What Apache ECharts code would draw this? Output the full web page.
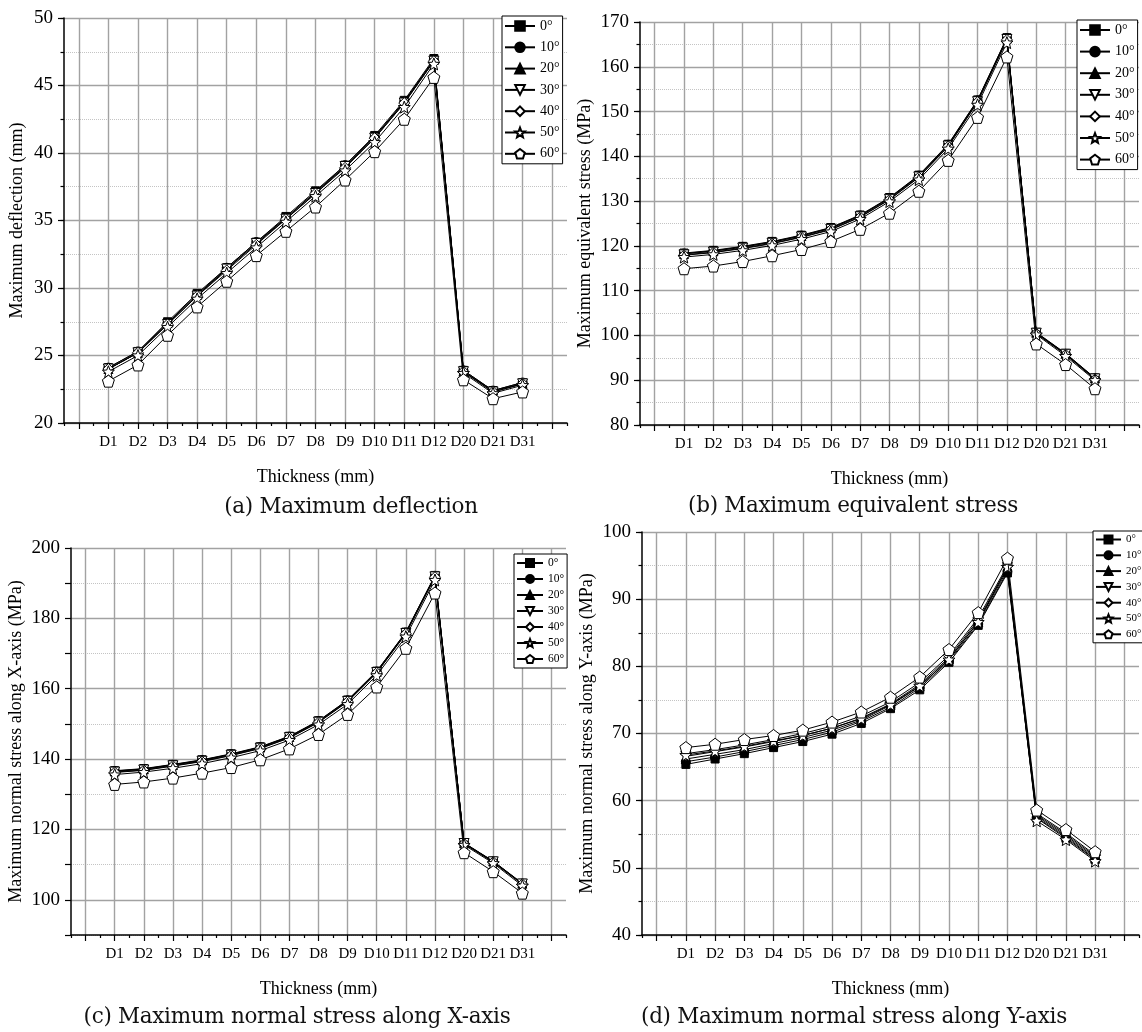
<!DOCTYPE html>
<html><head><meta charset="utf-8">
<script src="https://cdn.jsdelivr.net/npm/echarts@6/dist/echarts.min.js"></script>
<style>
html,body{margin:0;padding:0;background:#fff;}
#wrap{position:relative;width:1142px;height:1032px;overflow:hidden;background:#fff;}
#chart{position:absolute;left:0;top:0;width:1142px;height:1032px;}
.cap{position:absolute;font-family:'DejaVu Serif',serif;font-size:21.5px;color:#111;white-space:nowrap;transform:translate(-50%,-50%);line-height:26px;letter-spacing:-0.3px;}
</style></head><body>
<div id="wrap"><div id="chart"></div>
<div class="cap" style="left:351px;top:506px">(a) Maximum deflection</div>
<div class="cap" style="left:853px;top:505px">(b) Maximum equivalent stress</div>
<div class="cap" style="left:297px;top:1016px">(c) Maximum normal stress along X-axis</div>
<div class="cap" style="left:854px;top:1016px">(d) Maximum normal stress along Y-axis</div>
</div>
<script>
// ---------- data ----------
const THICKNESS = ['D1','D2','D3','D4','D5','D6','D7','D8','D9','D10','D11','D12','D20','D21','D31'];
const ANGLES = ['0°','10°','20°','30°','40°','50°','60°'];

// (a) Maximum deflection (mm)
const DEFL_0  = [24.1, 25.3, 27.5, 29.6, 31.5, 33.4, 35.3, 37.2, 39.1, 41.3, 43.9, 47.0, 23.9, 22.4, 23.0];
const DEFL_10 = [24.1, 25.3, 27.4, 29.5, 31.5, 33.4, 35.2, 37.1, 39.1, 41.2, 43.8, 46.9, 23.9, 22.4, 23.0];
const DEFL_20 = [24.0, 25.2, 27.4, 29.5, 31.4, 33.3, 35.2, 37.1, 39.0, 41.2, 43.8, 46.9, 23.8, 22.4, 22.9];
const DEFL_30 = [24.0, 25.2, 27.3, 29.4, 31.4, 33.3, 35.1, 37.0, 39.0, 41.1, 43.7, 46.8, 23.8, 22.3, 22.9];
const DEFL_40 = [24.0, 25.2, 27.3, 29.4, 31.3, 33.2, 35.1, 37.0, 38.9, 41.1, 43.7, 46.8, 23.8, 22.3, 22.9];
const DEFL_50 = [23.8, 25.0, 27.1, 29.2, 31.1, 33.0, 34.9, 36.8, 38.7, 40.8, 43.4, 46.6, 23.7, 22.2, 22.8];
const DEFL_60 = [23.1, 24.3, 26.5, 28.6, 30.5, 32.4, 34.2, 36.0, 38.0, 40.1, 42.5, 45.6, 23.2, 21.8, 22.3];

// (b) Maximum equivalent stress (MPa)
const EQV_0  = [118.4, 119.0, 119.9, 121.0, 122.4, 124.1, 126.9, 130.8, 135.8, 142.7, 152.6, 166.5, 100.7, 96.0, 90.5];
const EQV_10 = [118.3, 118.9, 119.8, 120.9, 122.3, 124.0, 126.8, 130.7, 135.7, 142.6, 152.5, 166.4, 100.6, 95.9, 90.4];
const EQV_20 = [118.2, 118.8, 119.7, 120.8, 122.2, 123.9, 126.7, 130.6, 135.6, 142.5, 152.4, 166.3, 100.6, 95.9, 90.4];
const EQV_30 = [118.0, 118.6, 119.5, 120.6, 122.0, 123.7, 126.5, 130.4, 135.4, 142.3, 152.2, 166.1, 100.5, 95.8, 90.3];
const EQV_40 = [117.9, 118.5, 119.4, 120.5, 121.9, 123.6, 126.4, 130.3, 135.3, 142.2, 152.1, 166.0, 100.4, 95.7, 90.2];
const EQV_50 = [117.5, 118.1, 119.0, 120.1, 121.5, 123.2, 126.0, 129.9, 134.8, 141.7, 151.5, 165.4, 100.2, 95.4, 90.0];
const EQV_60 = [114.9, 115.5, 116.5, 117.8, 119.2, 121.0, 123.7, 127.3, 132.2, 139.1, 148.7, 162.2, 98.1, 93.5, 88.1];

// (c) Maximum normal stress along X-axis (MPa)
const SX_0  = [136.7, 137.3, 138.5, 139.8, 141.5, 143.5, 146.5, 150.9, 156.8, 165.0, 176.1, 192.2, 116.2, 111.0, 104.7];
const SX_10 = [136.6, 137.2, 138.4, 139.7, 141.4, 143.4, 146.4, 150.8, 156.7, 164.9, 176.0, 192.1, 116.1, 110.9, 104.6];
const SX_20 = [136.5, 137.1, 138.3, 139.6, 141.3, 143.3, 146.3, 150.7, 156.6, 164.8, 175.9, 192.0, 116.1, 110.9, 104.6];
const SX_30 = [136.3, 136.9, 138.1, 139.4, 141.1, 143.1, 146.1, 150.5, 156.4, 164.6, 175.7, 191.8, 116.0, 110.8, 104.5];
const SX_40 = [136.2, 136.8, 138.0, 139.3, 141.0, 143.0, 146.0, 150.4, 156.3, 164.5, 175.6, 191.7, 115.9, 110.7, 104.4];
const SX_50 = [135.6, 136.3, 137.4, 138.7, 140.4, 142.4, 145.4, 149.8, 155.6, 163.8, 174.8, 190.9, 115.6, 110.4, 104.0];
const SX_60 = [132.8, 133.5, 134.6, 136.0, 137.6, 139.8, 142.9, 147.0, 152.7, 160.5, 171.5, 187.2, 113.4, 108.0, 101.9];

// (d) Maximum normal stress along Y-axis (MPa)
const SY_0  = [65.4, 66.2, 67.0, 67.9, 68.8, 69.9, 71.5, 73.7, 76.5, 80.6, 86.1, 93.9, 57.4, 54.4, 51.2];
const SY_10 = [65.8, 66.5, 67.3, 68.2, 69.1, 70.2, 71.8, 73.9, 76.8, 80.8, 86.3, 94.1, 57.5, 54.6, 51.3];
const SY_20 = [66.2, 66.9, 67.6, 68.5, 69.4, 70.5, 72.0, 74.2, 77.0, 81.1, 86.6, 94.4, 57.7, 54.8, 51.5];
const SY_30 = [66.6, 67.3, 68.0, 68.8, 69.7, 70.8, 72.3, 74.4, 77.3, 81.3, 86.9, 94.7, 57.9, 55.0, 51.7];
const SY_40 = [67.0, 67.6, 68.3, 69.1, 70.0, 71.1, 72.6, 74.7, 77.6, 81.6, 87.2, 95.0, 58.1, 55.2, 51.9];
const SY_50 = [66.8, 67.4, 68.1, 68.9, 69.7, 70.8, 72.2, 74.3, 77.1, 81.0, 86.6, 94.8, 57.0, 54.2, 51.0];
const SY_60 = [67.9, 68.4, 69.1, 69.7, 70.5, 71.7, 73.2, 75.4, 78.4, 82.5, 88.0, 96.1, 58.6, 55.7, 52.4];

// ---------- styling / layout ----------
const FONT = "'Liberation Serif','Times New Roman',serif";
const STAR = 'path://M50,0 L63,33 L98,35 L71,57 L80,92 L50,73 L20,92 L29,57 L2,35 L37,33 Z';
const PENT = 'path://M50,0 L100,38 L81,100 L19,100 L0,38 Z';
const TRI_DOWN = 'path://M0,0 L100,0 L50,87 Z';
const MARKERS = [
  {symbol:'rect', size:8, fill:'#000'},
  {symbol:'circle', size:9, fill:'#000'},
  {symbol:'triangle', size:9, fill:'#000'},
  {symbol:TRI_DOWN, size:10, fill:'#fff'},
  {symbol:'diamond', size:11, fill:'#fff'},
  {symbol:STAR, size:12, fill:'#fff'},
  {symbol:PENT, size:12, fill:'#fff'}
];

// half-step slots from -0.5 to 16.5 (axis slots; thickness k sits at slot 1..15)
const SLOTS = [];
for (let i = 0; i <= 34; i++) SLOTS.push(String((i - 1) / 2));

const PANELS = [
  {series:[DEFL_0,DEFL_10,DEFL_20,DEFL_30,DEFL_40,DEFL_50,DEFL_60], yName:'Maximum deflection (mm)',
   min:20, max:50, major:5, minor:2.5, odd:false, nameGap:38,
   grid:{left:64, top:18, width:503, height:405},
   legend:{left:502, top:16, itemWidth:30, itemHeight:12, itemGap:7.3, fontSize:14}},
  {series:[EQV_0,EQV_10,EQV_20,EQV_30,EQV_40,EQV_50,EQV_60], yName:'Maximum equivalent stress (MPa)',
   min:80, max:170, major:10, minor:5, odd:false, nameGap:46,
   grid:{left:640, top:22, width:502, height:403},
   legend:{left:1077, top:20, itemWidth:30, itemHeight:12, itemGap:7.6, fontSize:14}},
  {series:[SX_0,SX_10,SX_20,SX_30,SX_40,SX_50,SX_60], yName:'Maximum normal stress along X-axis (MPa)',
   min:90, max:200, major:10, minor:10, odd:true, nameGap:46,
   grid:{left:71, top:548, width:495, height:387},
   legend:{left:514, top:554, itemWidth:26, itemHeight:10, itemGap:4, fontSize:11.5}},
  {series:[SY_0,SY_10,SY_20,SY_30,SY_40,SY_50,SY_60], yName:'Maximum normal stress along Y-axis (MPa)',
   min:40, max:100, major:10, minor:5, odd:false, nameGap:46,
   grid:{left:642, top:532, width:499, height:403},
   legend:{left:1093, top:531, itemWidth:25, itemHeight:10, itemGap:4.8, fontSize:11}}
];

const GRID_COLOR = '#a2a2a2';
const MINOR_COLOR = '#c4c4c4';
const CLEAR = 'rgba(0,0,0,0)';

const option = {animation:false, backgroundColor:'#fff', grid:[], xAxis:[], yAxis:[], legend:[], series:[]};

PANELS.forEach((p, g) => {
  option.grid.push(Object.assign({containLabel:false}, p.grid));
  // main x axis: minor ticks at every half slot, grid lines at integer slots, labels
  option.xAxis.push({
    type:'category', gridIndex:g, position:'bottom', data:SLOTS, boundaryGap:false,
    name:'Thickness (mm)', nameLocation:'middle', nameGap:45,
    nameTextStyle:{fontFamily:FONT, fontSize:18, color:'#000'},
    axisLine:{show:true, onZero:false, lineStyle:{color:'#000', width:1.5}},
    axisTick:{show:true, length:3, interval:(i)=> i % 2 === 0, lineStyle:{color:'#000', width:1.2}},
    axisLabel:{show:true, interval:0, margin:12, fontFamily:FONT, fontSize:15, color:'#000',
      formatter:(v)=>{ const n = Number(v); return (Number.isInteger(n) && n >= 1 && n <= 15) ? THICKNESS[n-1] : ''; }},
    splitLine:{show:true, interval:(i)=> i % 2 === 1, lineStyle:{color:GRID_COLOR, width:1.4}}
  });
  // second x axis: longer major ticks at integer slots
  option.xAxis.push({
    type:'category', gridIndex:g, position:'bottom', data:SLOTS, boundaryGap:false,
    axisLine:{show:false, onZero:false},
    axisTick:{show:true, length:6, interval:(i)=> i % 2 === 1, lineStyle:{color:'#000', width:1.2}},
    axisLabel:{show:false}, splitLine:{show:false}
  });
  // main y axis
  const yMain = {
    type:'value', gridIndex:g, position:'left', min:p.min, max:p.max, interval:p.major,
    name:p.yName, nameLocation:'middle', nameGap:p.nameGap,
    nameTextStyle:{fontFamily:FONT, fontSize:18, color:'#000'},
    axisLine:{show:true, lineStyle:{color:'#000', width:1.5}},
    axisTick:{show:true, length:6, lineStyle:{color:'#000', width:1.2}},
    axisLabel:{show:true, margin:11, fontFamily:FONT, fontSize:19, color:'#000'},
    splitLine:{show:true, lineStyle:{color:GRID_COLOR, width:1.4}}
  };
  if (p.odd) {
    yMain.axisLabel.formatter = (v)=> ((v - 100) % 20 === 0 ? String(v) : '');
    yMain.splitLine.lineStyle.color = [CLEAR, GRID_COLOR];
  }
  option.yAxis.push(yMain);
  // minor y axis: dotted grid lines between majors
  option.yAxis.push({
    type:'value', gridIndex:g, position:'left', min:p.min, max:p.max, interval:p.minor,
    axisLine:{show:false},
    axisTick:{show:!p.odd, length:3.5, lineStyle:{color:'#000', width:1.2}},
    axisLabel:{show:false},
    splitLine:{show:true, lineStyle:{type:'dotted', width:1, color: p.odd ? [MINOR_COLOR, CLEAR] : [CLEAR, MINOR_COLOR]}}
  });
  option.legend.push({
    orient:'vertical', left:p.legend.left, top:p.legend.top, data:ANGLES, selectedMode:false,
    itemWidth:p.legend.itemWidth, itemHeight:p.legend.itemHeight, itemGap:p.legend.itemGap,
    padding:[3,3,3,2], borderColor:'#000', borderWidth:1, backgroundColor:'#fff',
    textStyle:{fontFamily:FONT, fontSize:p.legend.fontSize, color:'#000', lineHeight:p.legend.itemHeight}
  });
  p.series.forEach((vals, s) => {
    const m = MARKERS[s];
    option.series.push({
      type:'line', name:ANGLES[s], xAxisIndex:2*g, yAxisIndex:2*g,
      data: vals.map((v, k) => [2*(k+1) + 1, v]),
      symbol:m.symbol, symbolSize:m.size, showAllSymbol:true,
      lineStyle:{color:'#000', width:1},
      itemStyle:{color:m.fill, borderColor:'#000', borderWidth:1},
      emphasis:{disabled:true}, silent:true, z:2 + s
    });
  });
});

const chart = echarts.init(document.getElementById('chart'), null, {renderer:'canvas'});
chart.setOption(option);
</script>
</body></html>
